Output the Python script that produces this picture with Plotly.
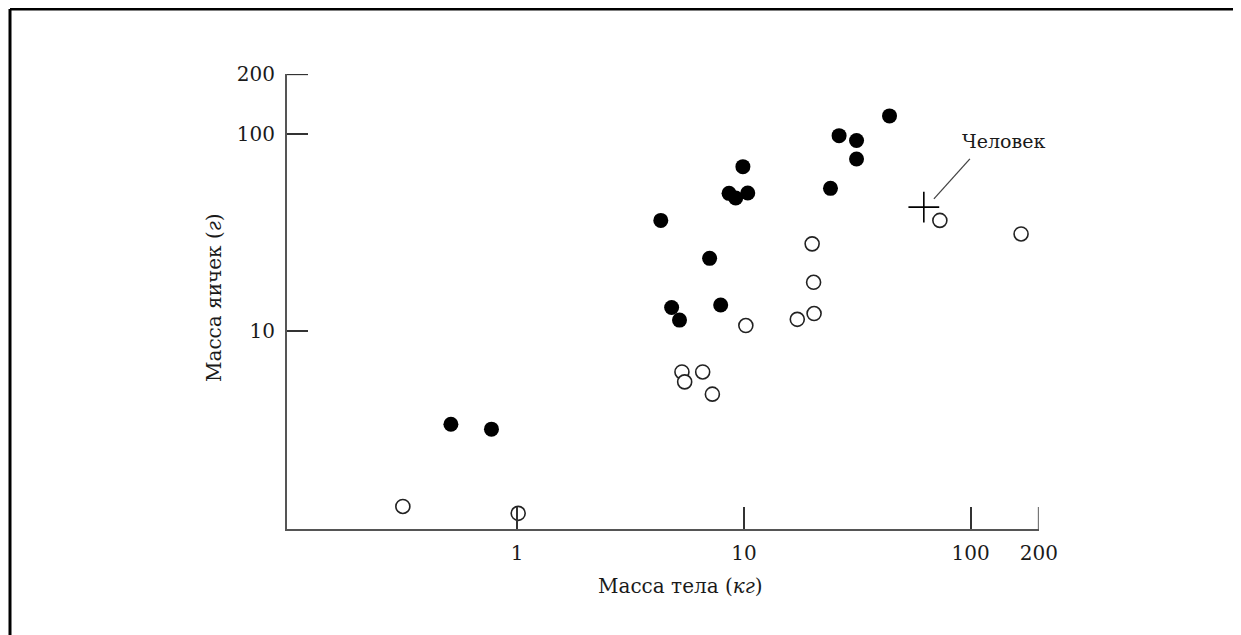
import numpy as np
import plotly.graph_objects as go

# Filled circles (body mass kg, testes mass g)
filled_x = [0.51, 0.77, 4.3, 4.8, 5.2, 7.06, 7.9, 8.6, 9.2, 9.9, 10.4, 24.1, 26.3, 31.4, 31.4, 43.9]
filled_y = [3.39, 3.20, 36.4, 13.2, 11.4, 23.4, 13.6, 49.9, 47.3, 68.1, 50.1, 52.9, 97.7, 92.3, 74.5, 123]

# Open circles
open_x = [0.313, 1.01, 5.33, 6.58, 5.48, 7.26, 10.2, 17.2, 20.4, 20.3, 20.0, 73.2, 167]
open_y = [1.30, 1.20, 6.23, 6.23, 5.55, 4.81, 10.7, 11.5, 12.3, 17.7, 27.7, 36.4, 31.1]

# Human
human_x = [62.2]
human_y = [42.5]
human_label = "Человек"
leader_x = [68.9, 99.3]
leader_y = [46.8, 74.5]

x_ticks = [1, 10, 100, 200]
x_tick_labels = ["1", "10", "100", "200"]
y_ticks = [10, 100, 200]
y_tick_labels = ["10", "100", "200"]

x_title = "Масса тела (<i>кг</i>)"
y_title = "Масса яичек (<i>г</i>)"

FONT = "DejaVu Serif"
TXT = "#1a1a1a"

fig = go.Figure()
fig.add_trace(go.Scatter(x=leader_x, y=leader_y, mode="lines",
                         line=dict(color="#444", width=1.3), hoverinfo="skip"))
fig.add_trace(go.Scatter(x=filled_x, y=filled_y, mode="markers",
                         marker=dict(size=15, color="black", line=dict(width=0)),
                         cliponaxis=False))
fig.add_trace(go.Scatter(x=open_x, y=open_y, mode="markers",
                         marker=dict(size=14, color="white", line=dict(color="#222", width=1.6)),
                         cliponaxis=False))
fig.add_trace(go.Scatter(x=human_x, y=human_y, mode="markers",
                         marker=dict(symbol="cross-thin-open", size=22, color="black",
                                     line=dict(color="black", width=1.6)),
                         cliponaxis=False))

# page body has an 8px margin; work in screen pixels and subtract it
OFF = 8
L_s, T_s = 287, 74          # plot-area left/top on screen
pw, ph = 752, 455
W, H = 1241 - OFF, 635 - OFF
L, T = L_s - OFF, T_s - OFF
R, B = W - L - pw, H - T - ph
XTL, YTL = 22, 21           # tick lengths

def px(xs):
    return (xs - L_s) / pw

def py(ys):
    return (T_s + ph - ys) / ph

fig.update_layout(
    width=W, height=H,
    margin=dict(l=L, r=R, t=T, b=B),
    paper_bgcolor="white", plot_bgcolor="white",
    showlegend=False,
    font=dict(family=FONT, size=20, color=TXT),
    xaxis=dict(type="log", range=[-1.0155, np.log10(200) + 0.0008],
               tickvals=x_ticks, ticktext=x_tick_labels,
               ticks="inside", ticklen=XTL, tickwidth=2, tickcolor="#333",
               showline=True, linecolor="#555", linewidth=2,
               showgrid=False, zeroline=False, ticklabelstandoff=5,
               tickfont=dict(family=FONT, size=20, color=TXT)),
    yaxis=dict(type="log", range=[0, np.log10(200) + 0.0008],
               tickvals=y_ticks, ticktext=y_tick_labels,
               ticks="inside", ticklen=YTL, tickwidth=2, tickcolor="#333",
               showline=True, linecolor="#555", linewidth=2,
               showgrid=False, zeroline=False, ticklabelstandoff=6,
               tickfont=dict(family=FONT, size=20, color=TXT)),
    annotations=[
        dict(text=x_title, xref="paper", yref="paper",
             x=px(680), y=py(586),
             showarrow=False, xanchor="center", yanchor="middle",
             font=dict(family=FONT, size=20, color=TXT)),
        dict(text=y_title, xref="paper", yref="paper",
             x=px(214), y=py(298), textangle=-90,
             showarrow=False, xanchor="center", yanchor="middle",
             font=dict(family=FONT, size=20, color=TXT)),
        dict(text=human_label, xref="paper", yref="paper",
             x=px(1003), y=py(141),
             showarrow=False, xanchor="center", yanchor="middle",
             font=dict(family=FONT, size=19, color=TXT)),
    ],
    shapes=[
        # outer frame
        dict(type="line", xref="paper", yref="paper",
             x0=px(10), x1=px(1260), y0=py(9), y1=py(9),
             line=dict(color="black", width=3)),
        dict(type="line", xref="paper", yref="paper",
             x0=px(10), x1=px(10), y0=py(9), y1=py(660),
             line=dict(color="black", width=3)),
        # end ticks that plotly clips at the axis ends
        dict(type="line", xref="paper", yref="y",
             x0=0, x1=YTL / pw, y0=y_ticks[-1], y1=y_ticks[-1],
             line=dict(color="#333", width=2)),
        dict(type="line", xref="x", yref="paper",
             x0=x_ticks[-1], x1=x_ticks[-1], y0=0, y1=XTL / ph,
             line=dict(color="#777", width=2)),
    ],
)

fig.write_html("out.html")
